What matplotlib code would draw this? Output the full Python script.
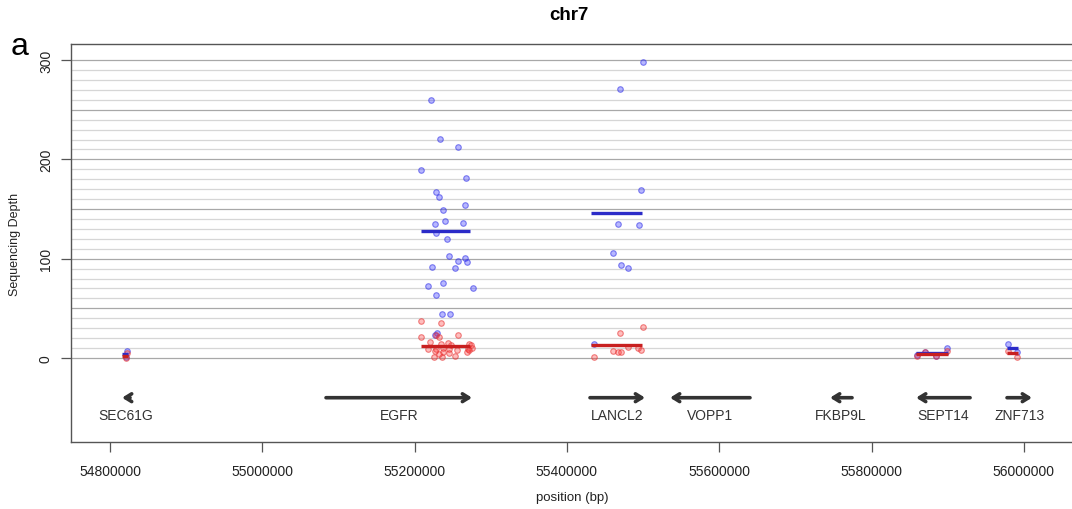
import matplotlib
matplotlib.use("Agg")
import matplotlib.pyplot as plt
import numpy as np

plt.rcParams['font.family'] = ['Liberation Sans', 'DejaVu Sans']

# ---- data ----
# per-gene sample depths (blue = tumour, red = normal), x positions in bp
egfr_x_blue = [55222000, 55233800, 55257400, 55208400, 55267500, 55228600, 55232000, 55266200,
               55236900, 55239900, 55226300, 55264000, 55228600, 55242100, 55245700, 55266200,
               55257400, 55268800, 55222900, 55253200, 55237400, 55218100, 55277200, 55228100,
               55236500, 55246600, 55226700, 55229100]
egfr_y_blue = [260, 221, 212, 189, 181, 167, 162, 154, 149, 138, 135, 136, 126, 120, 103, 101,
               98, 97, 92, 91, 76, 73, 70, 63, 44, 44, 23, 25]
egfr_x_red = [55208400, 55234700, 55208400, 55257400, 55228600, 55232000, 55243800, 55271400,
              55274500, 55219900, 55234700, 55247900, 55275500, 55218100, 55228600, 55237100,
              55244900, 55255100, 55269800, 55271900, 55226300, 55237600, 55244700, 55252600,
              55225800, 55235400, 55269000, 55231600]
egfr_y_red = [37, 35, 21, 23, 23, 21, 15, 14, 13, 16, 14, 13, 10, 9, 9, 10, 9, 8, 9, 8, 7, 6,
              5, 2, 1, 1, 6, 4]
lancl2_x_blue = [55500400, 55469800, 55497800, 55467500, 55494700, 55460000, 55470400, 55480600, 55434900]
lancl2_y_blue = [298, 271, 169, 135, 134, 106, 94, 91, 14]
lancl2_x_red = [55500400, 55469800, 55480600, 55493800, 55497800, 55460000, 55467500, 55470400, 55434900]
lancl2_y_red = [31, 25, 11, 10, 8, 7, 6, 6, 1]
sept14_x = [55859500, 55870500, 55884100, 55898800]
sept14_y_blue = [3, 6, 2, 10.4]
sept14_y_red = [1.7, 5.7, 1.7, 6.7]
znf713_x = [55979100, 55990900]
znf713_y_blue = [14, 6]
znf713_y_red = [7, 0.5]
sec61g_x = [54822500, 54821200]
sec61g_y_blue = [7.4, 1]
sec61g_y_red = [4.6, 0]

# mean segments: (start, end, blue mean, red mean)
seg_start = [54815500, 55208400, 55431200, 55858500, 55977900]
seg_end = [54823800, 55272800, 55499000, 55901000, 55992000]
seg_blue = [4, 128, 146, 5.5, 10]
seg_red = [2.3, 12.4, 13, 4.3, 4.7]

# genes: name, start, end, strand
gene_names = ["SEC61G", "EGFR", "LANCL2", "VOPP1", "FKBP9L", "SEPT14", "ZNF713"]
gene_start = [54815800, 55083650, 55430300, 55535400, 55745500, 55858500, 55977900]
gene_end = [54826300, 55275400, 55502600, 55640400, 55774400, 55929400, 56010700]
gene_strand = ["-", "+", "+", "-", "-", "-", "+"]

xticks = [54800000, 55000000, 55200000, 55400000, 55600000, 55800000, 56000000]
yticks = [0, 100, 200, 300]

# ---- figure ----
W, H = 1072, 510
fig = plt.figure(figsize=(W / 100, H / 100), dpi=100)
ax = fig.add_axes([71 / W, (H - 443) / H, (1075 - 71) / W, (443 - 45) / H])
ax.set_xlim(54748785, 56067170)
ax.set_ylim(-84.6, 316.2)

# grid lines
for v in range(0, 301, 10):
    c = '#A8A8A8' if v % 50 == 0 else '#D6D6D6'
    ax.axhline(v, color=c, lw=0.9, zorder=0)

blue_pt = dict(s=16, facecolor=(0.2, 0.2, 1.0, 0.35), edgecolor=(0.2, 0.2, 0.9, 0.6), linewidths=0.8, zorder=3)
red_pt = dict(s=16, facecolor=(1.0, 0.2, 0.2, 0.32), edgecolor=(0.9, 0.2, 0.2, 0.6), linewidths=0.8, zorder=3)

ax.scatter(egfr_x_blue, egfr_y_blue, **blue_pt)
ax.scatter(lancl2_x_blue, lancl2_y_blue, **blue_pt)
ax.scatter(egfr_x_red, egfr_y_red, **red_pt)
ax.scatter(lancl2_x_red, lancl2_y_red, **red_pt)
for xs, yb, yr in [(sept14_x, sept14_y_blue, sept14_y_red), (znf713_x, znf713_y_blue, znf713_y_red),
                   (sec61g_x, sec61g_y_blue, sec61g_y_red)]:
    ax.scatter(xs, yb, **blue_pt)
    ax.scatter(xs, yr, **red_pt)

for s, e, b, r in zip(seg_start, seg_end, seg_blue, seg_red):
    ax.plot([s, e], [b, b], color='#2B2BC8', lw=2.4, solid_capstyle='butt', zorder=4)
    ax.plot([s, e], [r, r], color='#C82020', lw=2.4, solid_capstyle='butt', zorder=4)

# gene arrows
for name, s, e, st in zip(gene_names, gene_start, gene_end, gene_strand):
    tail, head = (s, e) if st == '+' else (e, s)
    ax.annotate('', xy=(head, -40), xytext=(tail, -40),
                arrowprops=dict(arrowstyle='->,head_length=0.45,head_width=0.28',
                                lw=2.6, color='#333333', shrinkA=0, shrinkB=0))
    ax.text((s + e) / 2, -57, name, ha='center', va='center', fontsize=10, color='#333333')

for sp in ax.spines.values():
    sp.set_color('#555555')
    sp.set_linewidth(1.0)

ax.set_xticks(xticks)
ax.set_xticklabels([str(t) for t in xticks])
ax.set_yticks(yticks)
ax.set_yticklabels([str(t) for t in yticks], rotation=90, va='center')
ax.tick_params(axis='x', length=7, width=0.9, color='#555555', pad=9, labelsize=10, labelcolor='#222222')
ax.tick_params(axis='y', length=7, width=0.9, color='#555555', pad=6, labelsize=10, labelcolor='#222222')

fig.text(569 / W, 1 - 15 / H, 'chr7', ha='center', va='center', fontsize=13.5, fontweight='bold')
fig.text(20 / W, 1 - 47 / H, 'a', ha='center', va='center', fontsize=23)
fig.text(15 / W, 1 - 244 / H, 'Sequencing Depth', ha='center', va='center', rotation=90, fontsize=9, color='#222222')
fig.text(572 / W, 1 - 498 / H, 'position (bp)', ha='center', va='center', fontsize=9.5, color='#222222')

fig.savefig('out.png', dpi=100)
